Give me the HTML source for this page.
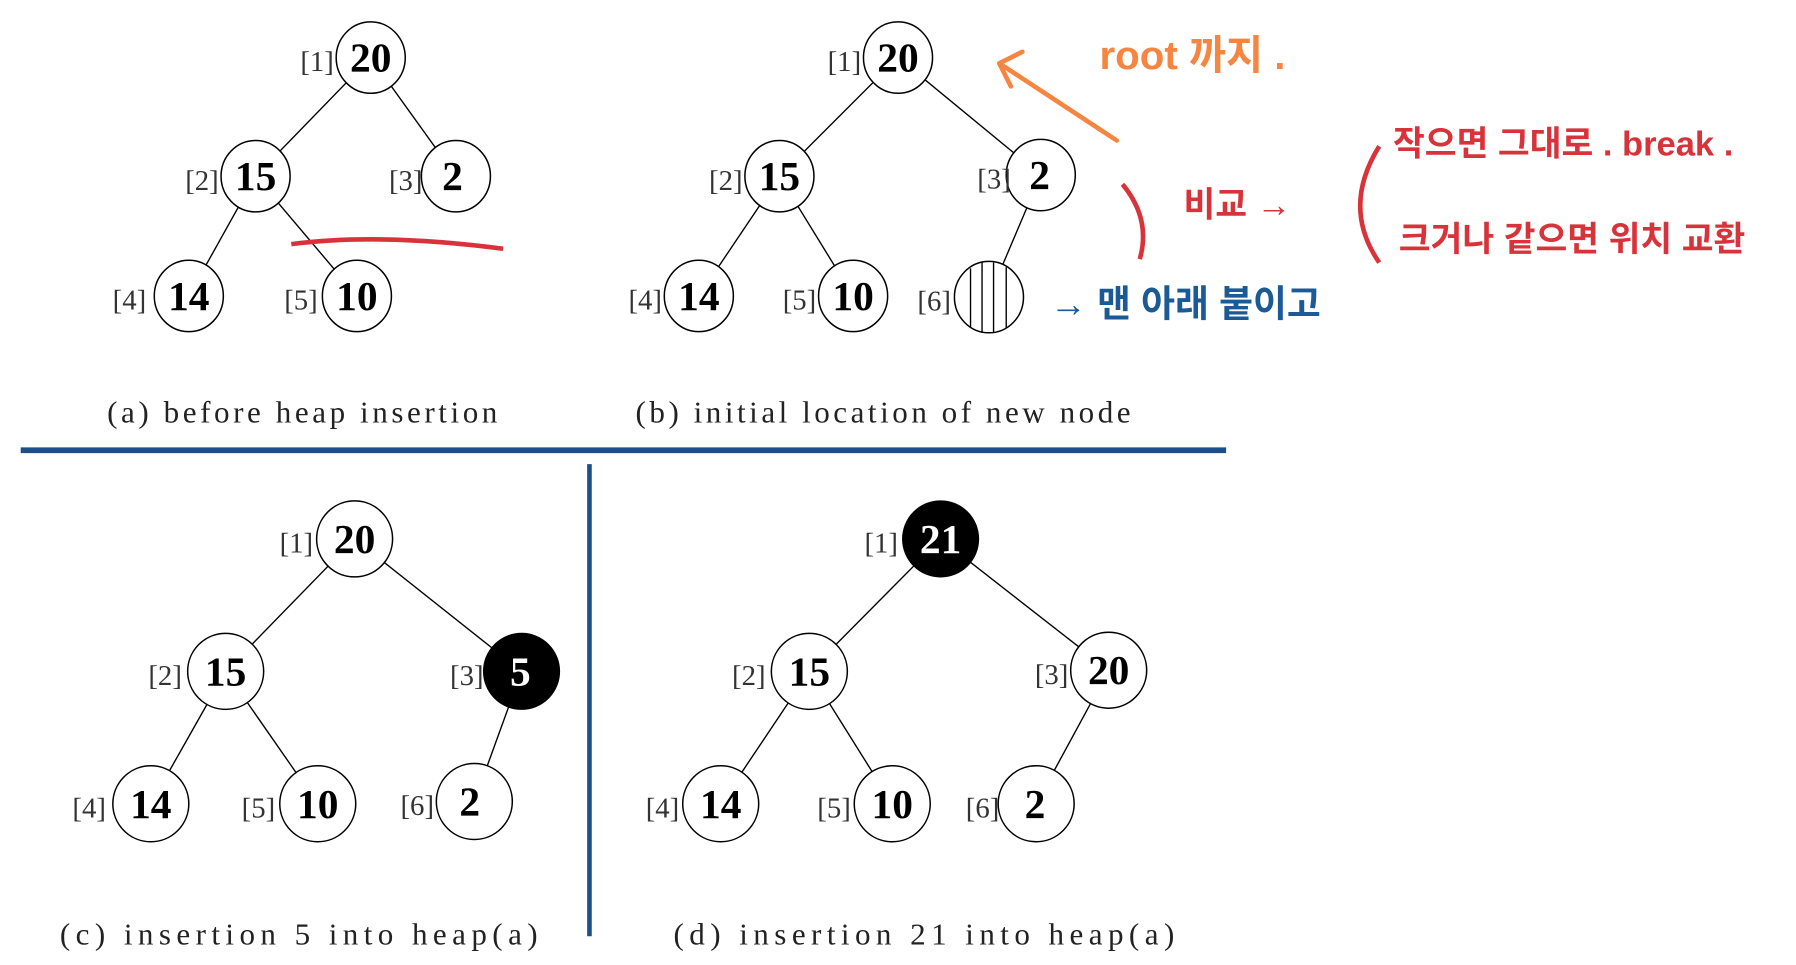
<!DOCTYPE html>
<html><head><meta charset="utf-8"><style>
html,body{margin:0;padding:0;background:#fff;}
svg{display:block}
.n{fill:#fff;stroke:#000;stroke-width:1.3}
.b{fill:#000;stroke:#000}
.t{font-family:"Liberation Serif",serif;font-weight:bold;font-size:36px;text-anchor:middle;dominant-baseline:central}
.l{font-family:"Liberation Serif",serif;font-size:25px;fill:#333;text-anchor:end;dominant-baseline:central}
.c{font-family:"Liberation Serif",serif;font-size:27px;fill:#222}
.e{stroke:#000;stroke-width:1.2}
.k{font-family:"Liberation Sans","Noto Sans CJK KR",sans-serif;font-weight:bold}
</style></head><body>
<svg width="1796" height="965" viewBox="0 0 1560 838" preserveAspectRatio="none">
<g class="e">
<line x1="322" y1="50" x2="222" y2="153"/><line x1="322" y1="50" x2="396" y2="153"/>
<line x1="222" y1="153" x2="164" y2="257"/><line x1="222" y1="153" x2="310" y2="257"/>
<line x1="780" y1="50" x2="677" y2="153"/><line x1="780" y1="50" x2="904" y2="152"/>
<line x1="677" y1="153" x2="607" y2="257"/><line x1="677" y1="153" x2="741" y2="257"/>
<line x1="904" y1="152" x2="859" y2="258"/>
<line x1="308" y1="468" x2="196" y2="583"/><line x1="308" y1="468" x2="453" y2="583"/>
<line x1="196" y1="583" x2="131" y2="698"/><line x1="196" y1="583" x2="276" y2="698"/>
<line x1="453" y1="583" x2="412" y2="696"/>
<line x1="817" y1="468" x2="703" y2="583"/><line x1="817" y1="468" x2="963" y2="582"/>
<line x1="703" y1="583" x2="626" y2="698"/><line x1="703" y1="583" x2="775" y2="698"/>
<line x1="963" y1="582" x2="900" y2="698"/>
</g>
<g>
<ellipse class="n" cx="322" cy="50" rx="30" ry="31"/><text class="t" x="322" y="50">20</text><text class="l" x="290" y="54">[1]</text>
<ellipse class="n" cx="222" cy="153" rx="30" ry="31"/><text class="t" x="222" y="153">15</text><text class="l" x="190" y="157">[2]</text>
<ellipse class="n" cx="396" cy="153" rx="30" ry="31"/><text class="t" x="393" y="153">2</text><text class="l" x="367" y="157">[3]</text>
<ellipse class="n" cx="164" cy="257" rx="30" ry="31"/><text class="t" x="164" y="257">14</text><text class="l" x="127" y="261">[4]</text>
<ellipse class="n" cx="310" cy="257" rx="30" ry="31"/><text class="t" x="310" y="257">10</text><text class="l" x="276" y="261">[5]</text>

<ellipse class="n" cx="780" cy="50" rx="30" ry="31"/><text class="t" x="780" y="50">20</text><text class="l" x="748" y="54">[1]</text>
<ellipse class="n" cx="677" cy="153" rx="30" ry="31"/><text class="t" x="677" y="153">15</text><text class="l" x="645" y="157">[2]</text>
<ellipse class="n" cx="904" cy="152" rx="30" ry="31"/><text class="t" x="903" y="152">2</text><text class="l" x="878" y="156">[3]</text>
<ellipse class="n" cx="607" cy="257" rx="30" ry="31"/><text class="t" x="607" y="257">14</text><text class="l" x="575" y="261">[4]</text>
<ellipse class="n" cx="741" cy="257" rx="30" ry="31"/><text class="t" x="741" y="257">10</text><text class="l" x="709" y="261">[5]</text>
<ellipse class="n" cx="859" cy="258" rx="30" ry="31"/>
<g stroke="#000" stroke-width="1.2"><line x1="843" y1="233" x2="843" y2="284"/><line x1="853" y1="228" x2="853" y2="289"/><line x1="863" y1="228" x2="863" y2="289"/><line x1="874" y1="232" x2="874" y2="285"/></g>
<text class="l" x="826" y="262">[6]</text>

<ellipse class="n" cx="308" cy="468" rx="33" ry="33"/><text class="t" x="308" y="468">20</text><text class="l" x="272" y="472">[1]</text>
<ellipse class="n" cx="196" cy="583" rx="33" ry="33"/><text class="t" x="196" y="583">15</text><text class="l" x="158" y="587">[2]</text>
<ellipse class="b" cx="453" cy="583" rx="33" ry="33"/><text class="t" x="452" y="583" fill="#fff">5</text><text class="l" x="420" y="587">[3]</text>
<ellipse class="n" cx="131" cy="698" rx="33" ry="33"/><text class="t" x="131" y="698">14</text><text class="l" x="92" y="702">[4]</text>
<ellipse class="n" cx="276" cy="698" rx="33" ry="33"/><text class="t" x="276" y="698">10</text><text class="l" x="239" y="702">[5]</text>
<ellipse class="n" cx="412" cy="696" rx="33" ry="33"/><text class="t" x="408" y="696">2</text><text class="l" x="377" y="700">[6]</text>

<ellipse class="b" cx="817" cy="468" rx="33" ry="33"/><text class="t" x="817" y="468" fill="#fff">21</text><text class="l" x="780" y="472">[1]</text>
<ellipse class="n" cx="703" cy="583" rx="33" ry="33"/><text class="t" x="703" y="583">15</text><text class="l" x="665" y="587">[2]</text>
<ellipse class="n" cx="963" cy="582" rx="33" ry="33"/><text class="t" x="963" y="582">20</text><text class="l" x="928" y="586">[3]</text>
<ellipse class="n" cx="626" cy="698" rx="33" ry="33"/><text class="t" x="626" y="698">14</text><text class="l" x="590" y="702">[4]</text>
<ellipse class="n" cx="775" cy="698" rx="33" ry="33"/><text class="t" x="775" y="698">10</text><text class="l" x="739" y="702">[5]</text>
<ellipse class="n" cx="900" cy="698" rx="33" ry="33"/><text class="t" x="899" y="698">2</text><text class="l" x="868" y="702">[6]</text>
</g>
<text class="c" x="93" y="367" textLength="339" lengthAdjust="spacing">(a) before heap insertion</text>
<text class="c" x="552" y="367" textLength="430" lengthAdjust="spacing">(b) initial location of new node</text>
<text class="c" x="52" y="820" textLength="415" lengthAdjust="spacing">(c) insertion 5 into heap(a)</text>
<text class="c" x="585" y="820" textLength="435" lengthAdjust="spacing">(d) insertion 21 into heap(a)</text>
<line x1="18" y1="391" x2="1065" y2="391" stroke="#1b4f85" stroke-width="5"/>
<line x1="512" y1="403" x2="512" y2="813" stroke="#1b4f85" stroke-width="4"/>
<path d="M253 212 Q330 202 437 216" stroke="#d8333a" stroke-width="4" fill="none"/>
<path d="M970 122 L868 55 M868 55 L888 45 M868 55 L878 75" stroke="#f58540" stroke-width="4" fill="none" stroke-linecap="round"/>
<text class="k" x="955" y="60" font-size="35" fill="#f58540">root 까지 .</text>
<path d="M975 160 Q1000 190 990 225" stroke="#d8333a" stroke-width="4" fill="none"/>
<text class="k" x="1028" y="188" font-size="30" fill="#d8333a">비교 →</text>
<path d="M1198 127 Q1165 180 1198 228" stroke="#d8333a" stroke-width="4" fill="none"/>
<text class="k" x="1210" y="135" font-size="30" fill="#d8333a">작으면 그대로 .  break .</text>
<text class="k" x="1215" y="218" font-size="30" fill="#d8333a">크거나 같으면  위치 교환</text>
<text class="k" x="912" y="275" font-size="32" fill="#1a5a96">→ 맨 아래 붙이고</text>
</svg>
</body></html>
